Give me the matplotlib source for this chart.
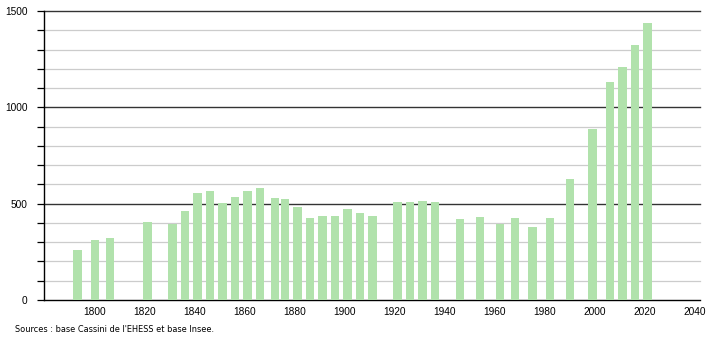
import matplotlib
matplotlib.use("Agg")
import matplotlib.pyplot as plt
from matplotlib import font_manager

years = [1793, 1800, 1806, 1821, 1831, 1836, 1841, 1846, 1851, 1856, 1861, 1866,
         1872, 1876, 1881, 1886, 1891, 1896, 1901, 1906, 1911, 1921, 1926, 1931,
         1936, 1946, 1954, 1962, 1968, 1975, 1982, 1990, 1999, 2006, 2011, 2016, 2021]
population = [260, 311, 321, 404, 397, 461, 554, 565, 503, 534, 565, 580,
              528, 523, 482, 425, 435, 435, 472, 451, 435, 508, 508, 513,
              508, 420, 430, 394, 425, 378, 425, 627, 886, 1132, 1207, 1323, 1440]
x_ticks = [1800, 1820, 1840, 1860, 1880, 1900, 1920, 1940, 1960, 1980, 2000, 2020, 2040]
y_ticks = [0, 500, 1000, 1500]
source = "Sources : base Cassini de l'EHESS et base Insee."

fl = font_manager.fontManager.ttflist
names = {f.name for f in fl}
fam = "Liberation Sans" if "Liberation Sans" in names else "DejaVu Sans"

src_kw = dict(family=fam, fontsize=6.2)
if "Liberation Sans Narrow" in names:
    src_kw = dict(family="Liberation Sans Narrow", fontsize=7.8)
elif any(f.name == "DejaVu Sans" and "condensed" in str(f.stretch) for f in fl):
    src_kw = dict(family="DejaVu Sans", fontstretch="condensed", fontsize=6.6)

fig = plt.figure(figsize=(7.1, 3.4), dpi=100)
ax = fig.add_axes([44 / 710, 40 / 340, 656 / 710, 289 / 340])

# gridlines
for v in range(100, 1501, 100):
    major = v % 500 == 0
    ax.axhline(v, color="#333333" if major else "#cccccc",
               lw=1.0 if major else 0.9, zorder=1, clip_on=False)

ax.bar(years, population, width=3.3, color="#b1e2ac", zorder=3, linewidth=0)

ax.set_xlim(1779.6, 2042)
ax.set_ylim(0, 1500)

for s in ["top", "right"]:
    ax.spines[s].set_visible(False)
ax.spines["left"].set_color("black")
ax.spines["bottom"].set_color("black")
ax.spines["left"].set_linewidth(1.0)
ax.spines["bottom"].set_linewidth(1.0)

ax.set_xticks(x_ticks)
ax.set_xticklabels([str(t) for t in x_ticks], fontsize=7.3, family=fam)
ax.tick_params(axis="x", length=0, pad=5)
ax.set_yticks(y_ticks)
ax.set_yticklabels([str(t) for t in y_ticks], fontsize=7.3, family=fam)
ax.set_yticks(range(0, 1501, 100), minor=True)
ax.tick_params(axis="y", which="both", length=5, width=0.9, pad=7, color="black")

fig.text(15 / 710, 1 - 330 / 340, source, va="center", ha="left", **src_kw)

fig.savefig("out.png", dpi=100)
